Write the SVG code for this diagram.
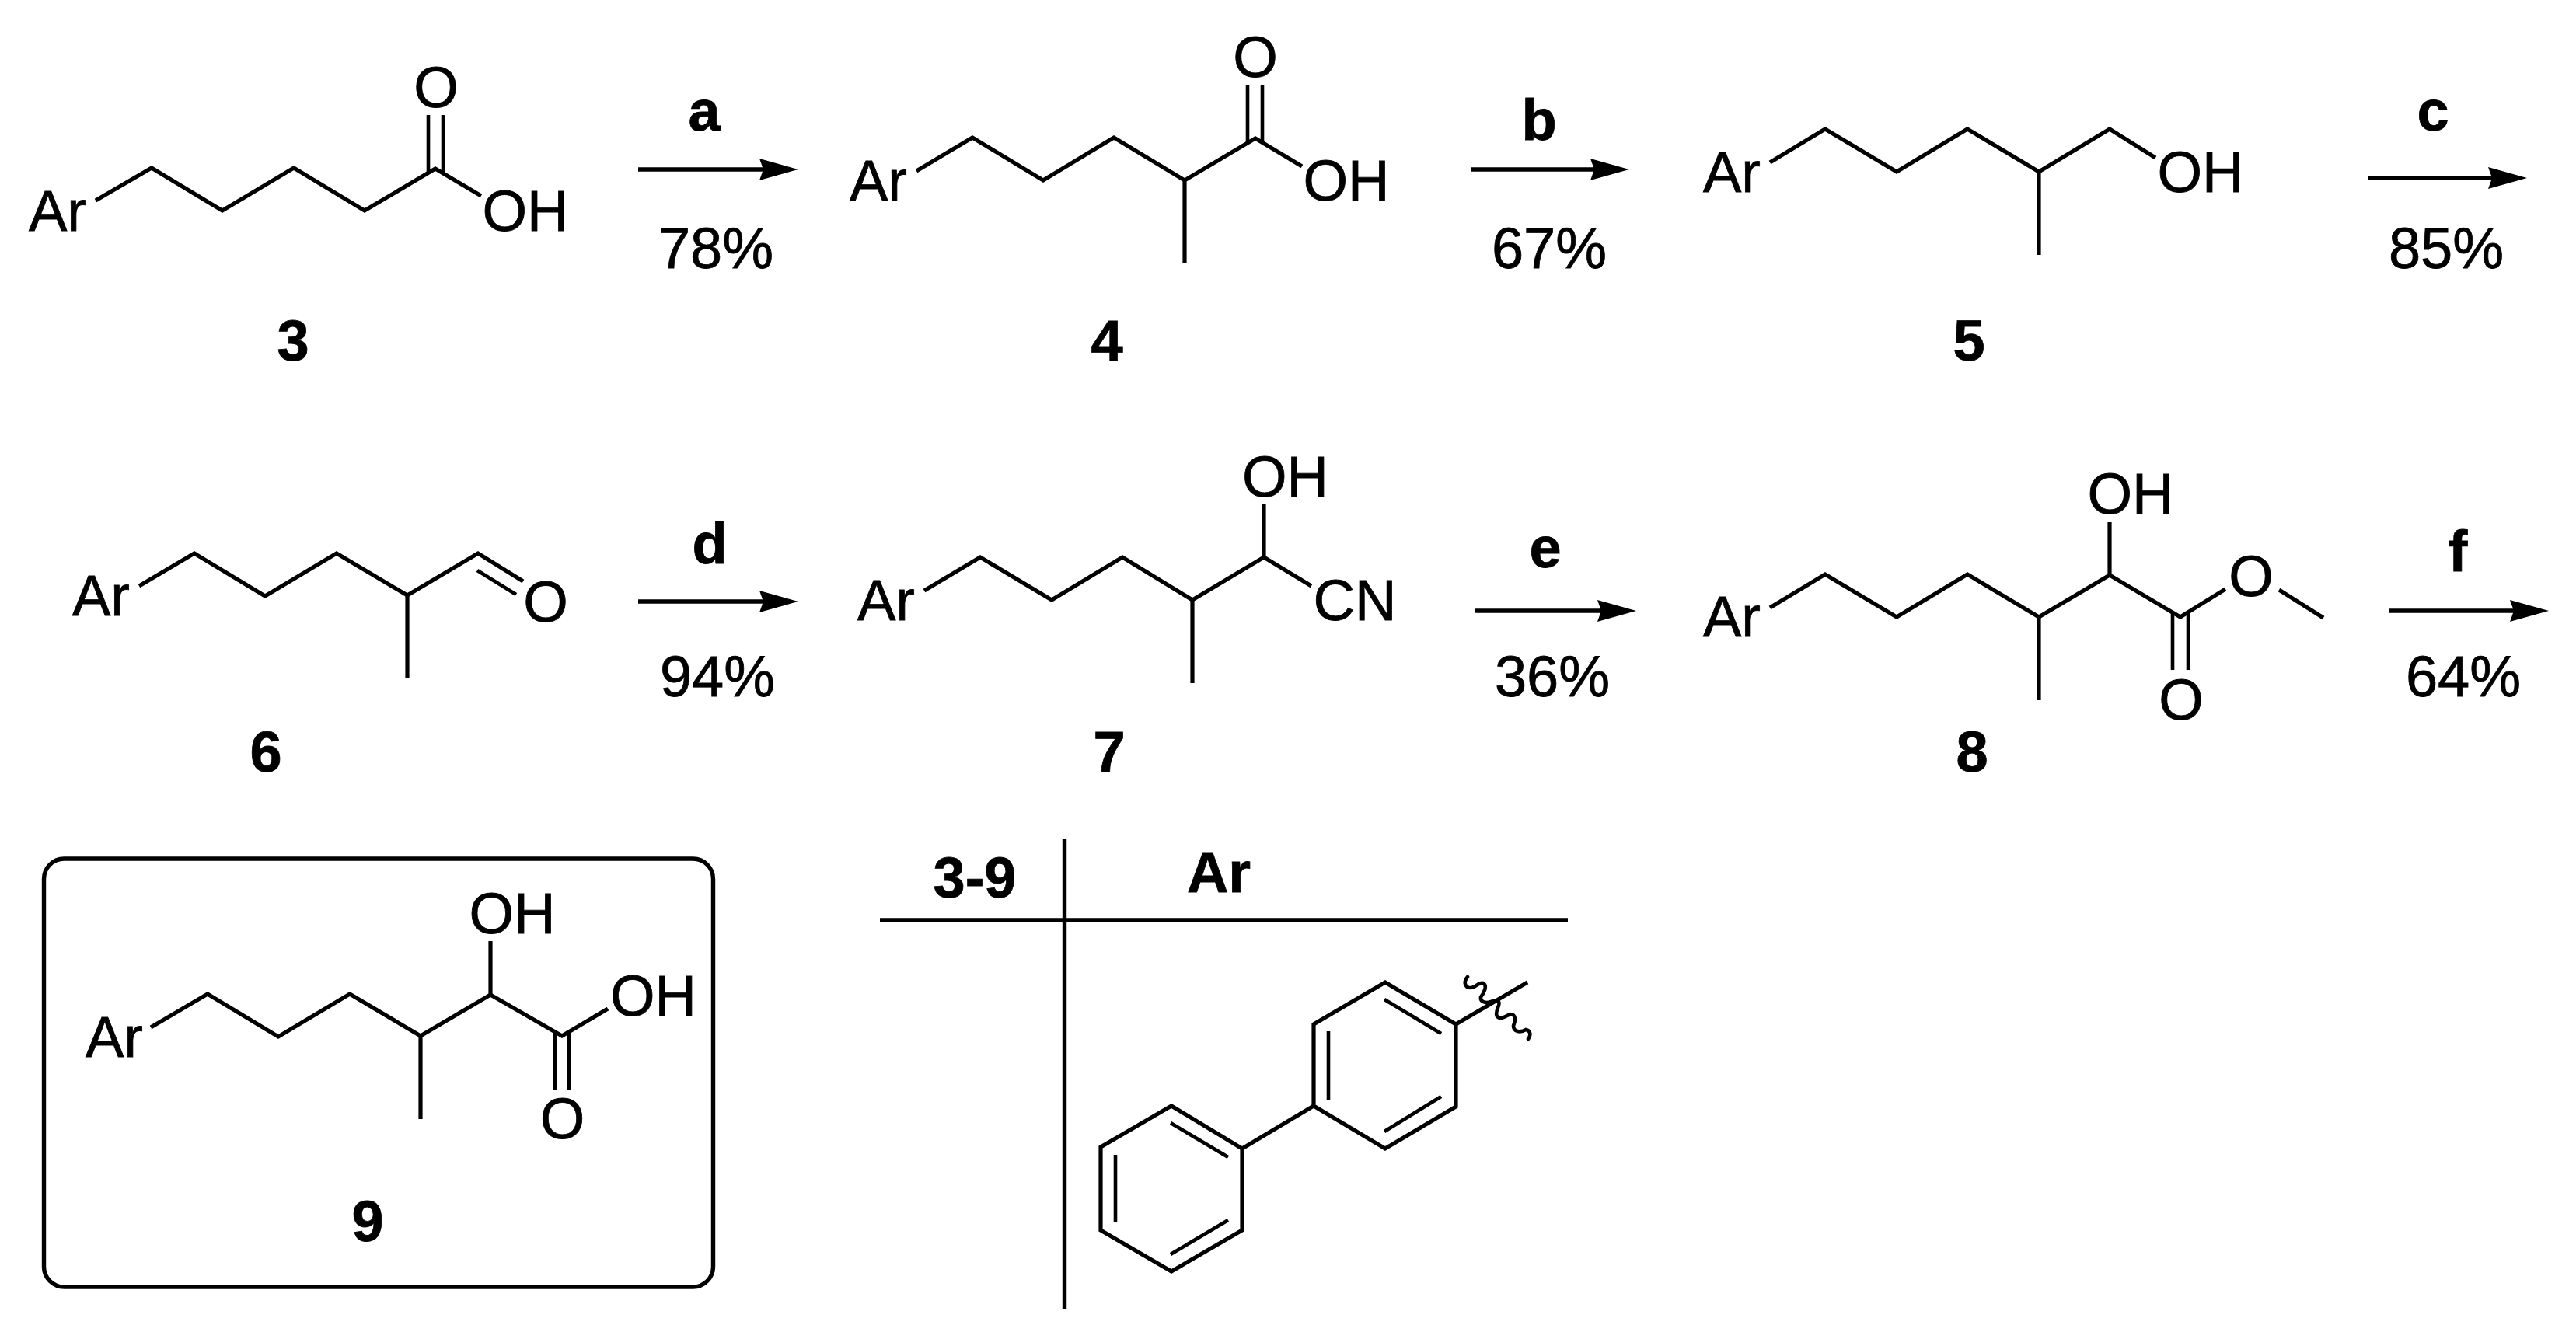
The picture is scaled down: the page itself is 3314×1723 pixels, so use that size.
<svg xmlns="http://www.w3.org/2000/svg" width="3314" height="1723" viewBox="0 0 3314 1723">
<style>
text{font-family:"Liberation Sans",Arial,sans-serif;font-size:74px;fill:#000;stroke:#000;stroke-width:.8}
.b{font-weight:bold}
.m{text-anchor:middle}
.bond{fill:none;stroke:#000;stroke-width:5.2;stroke-linejoin:miter;stroke-linecap:butt}
.thin{fill:none;stroke:#000;stroke-width:4.6}
.arrow{fill:none;stroke:#000;stroke-width:5.4;marker-end:url(#head)}
.rule{fill:none;stroke:#000;stroke-width:5.4}
</style>
<defs>
<marker id="head" markerUnits="userSpaceOnUse" markerWidth="54" markerHeight="32" refX="10" refY="15" orient="auto" overflow="visible">
<path d="M0 1 L50 15 L0 29 L5 15 Z" fill="#000"/>
</marker>
</defs>
<rect width="3314" height="1723" fill="#fff"/>
<g id="connectors">
<line class="arrow" x1="821" y1="218" x2="987" y2="218"/>
<line class="arrow" x1="1893" y1="218" x2="2056" y2="218"/>
<line class="arrow" x1="3046" y1="229" x2="3211" y2="229"/>
<line class="arrow" x1="821" y1="774" x2="987" y2="774"/>
<line class="arrow" x1="1898" y1="786" x2="2065" y2="786"/>
<line class="arrow" x1="3074" y1="786" x2="3239" y2="786"/>
</g>
<g id="labels">
<text class="b m" x="906" y="168">a</text>
<text class="m" x="921" y="345">78%</text>
<text class="b m" x="1980" y="180">b</text>
<text class="m" x="1993" y="345">67%</text>
<text class="b m" x="3130" y="168">c</text>
<text class="m" x="3147" y="345">85%</text>
<text class="b m" x="913" y="725">d</text>
<text class="m" x="923" y="896">94%</text>
<text class="b m" x="1988" y="730">e</text>
<text class="m" x="1997" y="896">36%</text>
<text class="b m" x="3162" y="735">f</text>
<text class="m" x="3169" y="896">64%</text>
</g>
<g id="compound-3">
<path class="bond" d="M123 258 L195 216 L286 271 L378 216 L469 271 L560 217 L619 252"/>
<path class="thin" d="M551 148 V222 M570 148 V222"/>
<text x="37" y="297">Ar</text>
<text class="m" x="561" y="138">O</text>
<text x="620.500" y="297">OH</text>
<text class="b m" x="377" y="464">3</text>
</g>
<g id="compound-4">
<path class="bond" d="M1179 220 L1251 177 L1342 232 L1433 177 L1524 232 L1615 178 L1675 214"/>
<path class="bond" d="M1524 232 V339"/>
<path class="thin" d="M1605 109 V183 M1624 109 V183"/>
<text x="1093" y="258">Ar</text>
<text class="m" x="1615" y="99">O</text>
<text x="1676.500" y="258">OH</text>
<text class="b m" x="1424" y="464">4</text>
</g>
<g id="compound-5">
<path class="bond" d="M2277 209 L2348 166 L2440 221 L2531 166 L2623 221 L2714 166 L2773 203"/>
<path class="bond" d="M2623 221 V328"/>
<text x="2191" y="247">Ar</text>
<text x="2775.500" y="247">OH</text>
<text class="b m" x="2533" y="464">5</text>
</g>
<g id="compound-6">
<path class="bond" d="M179 754 L250 712 L341 767 L433 712 L524 766 L615 712 L673 748"/>
<path class="bond" d="M524 766 V873"/>
<path class="thin" d="M614 734 L664 765"/>
<text x="93" y="792">Ar</text>
<text class="m" x="702" y="800">O</text>
<text class="b m" x="342" y="993">6</text>
</g>
<g id="compound-7">
<path class="bond" d="M1189 760 L1261 717 L1353 772 L1444 717 L1534 772 L1626 717 L1687 754"/>
<path class="bond" d="M1534 772 V879 M1626 717 V649"/>
<text x="1103" y="798">Ar</text>
<text x="1598" y="639">OH</text>
<text x="1689.500" y="798">CN</text>
<text class="b m" x="1427" y="993">7</text>
</g>
<g id="compound-8">
<path class="bond" d="M2277 782 L2348 739 L2440 794 L2531 739 L2623 794 L2714 740 L2805 794 L2863 758"/>
<path class="bond" d="M2623 794 V901 M2714 740 V672 M2932 759 L2989 795"/>
<path class="thin" d="M2795 788 V862 M2815 788 V862"/>
<text x="2191" y="819">Ar</text>
<text x="2685.500" y="661">OH</text>
<text class="m" x="2896" y="767">O</text>
<text class="m" x="2806" y="926">O</text>
<text class="b m" x="2537" y="993">8</text>
</g>
<g id="compound-9">
<rect class="rule" x="56.500" y="1105" width="861" height="551" rx="26" ry="26"/>
<path class="bond" d="M194 1322 L267 1279 L358 1334 L450 1279 L541 1333 L631 1280 L723 1333 L782 1298"/>
<path class="bond" d="M541 1333 V1440 M631 1280 V1211"/>
<path class="thin" d="M714 1329 V1402 M732 1329 V1402"/>
<text x="110" y="1360">Ar</text>
<text x="603.500" y="1201">OH</text>
<text x="785" y="1307">OH</text>
<text class="m" x="723.500" y="1465">O</text>
<text class="b m" x="473" y="1597">9</text>
</g>
<g id="ar-table">
<path class="rule" d="M1369.500 1079 V1684 M1132 1184 H2017"/>
<text class="b m" x="1254" y="1155">3-9</text>
<text class="b m" x="1568" y="1148">Ar</text>
<path class="bond" d="M1782 1264 L1873 1318 V1424 L1782 1478 L1690 1423 V1318 Z"/>
<path class="thin" d="M1781 1286 L1854 1330 M1854 1411 L1781 1456 M1709 1327 V1415"/>
<path class="bond" d="M1507 1423 L1598 1478 V1583 L1507 1636 L1416 1583 V1476 Z"/>
<path class="thin" d="M1506 1445 L1580 1489 M1580 1570 L1506 1614 M1435 1486 V1573"/>
<path class="bond" d="M1598 1478 L1690 1423 M1873 1318 L1965 1264"/>
<path class="thin" stroke-linecap="round" d="M1888 1257 C1882 1264 1885 1271 1892 1271 C1898 1271 1903 1263 1908 1265 C1914 1268 1909 1278 1905 1283 C1904 1290 1912 1291 1918 1289 C1922 1287 1925 1286 1928 1289 C1931 1294 1922 1301 1926 1308 C1931 1313 1938 1307 1943 1305 C1950 1305 1950 1313 1947 1320 C1947 1328 1956 1329 1963 1325 C1969 1326 1970 1332 1966 1337"/>
</g>
</svg>
